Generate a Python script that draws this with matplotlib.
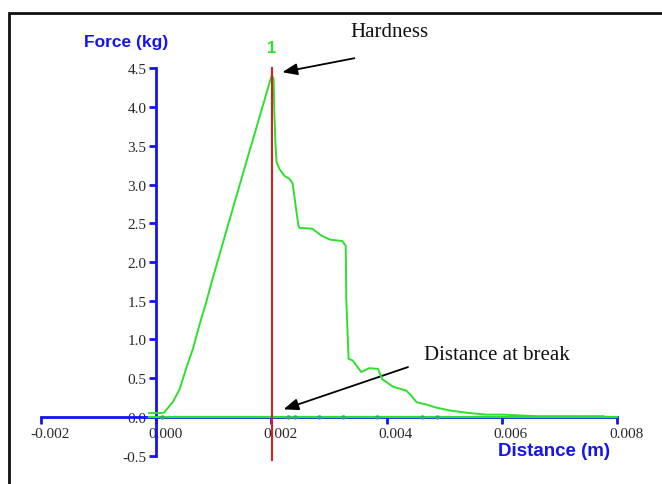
import matplotlib
matplotlib.use('Agg')
import matplotlib.pyplot as plt
import matplotlib.transforms as mtransforms
from matplotlib.patches import Rectangle

# force / distance trace of the texture test
distance = [-0.00012, 0.00006, 0.00014, 0.00017, 0.00029, 0.00041, 0.00052, 0.00064,
            0.00075, 0.00087, 0.00098, 0.00125, 0.00155, 0.00185,
            0.00201, 0.00204, 0.00205, 0.00207, 0.00209, 0.00214, 0.00223, 0.00232,
            0.00237, 0.00243, 0.00247, 0.00249, 0.00271, 0.00287, 0.00301, 0.00323,
            0.00329, 0.00330, 0.00334, 0.00341, 0.00356, 0.0037, 0.00385, 0.00392,
            0.00411, 0.00434, 0.00442, 0.00452, 0.00469, 0.00486, 0.00509, 0.00538,
            0.00573, 0.00602, 0.0066, 0.00718, 0.00776]
force = [0.05, 0.05, 0.055, 0.085, 0.19, 0.36, 0.62, 0.88,
         1.18, 1.48, 1.78, 2.48, 3.25, 4.01,
         4.42, 4.36, 3.97, 3.55, 3.29, 3.2, 3.11, 3.07,
         3.01, 2.68, 2.47, 2.44, 2.43, 2.34, 2.29, 2.27,
         2.21, 1.52, 0.75, 0.73, 0.58, 0.63, 0.62, 0.49,
         0.39, 0.34, 0.28, 0.19, 0.16, 0.12, 0.085, 0.055,
         0.03, 0.03, 0.01, 0.01, 0.01]

# baseline channel and its markers
baseline_x = [-0.00012, 0.0080]
baseline_y = [0.0, 0.0]
marker_x = [0.0001, 0.00229, 0.00241, 0.00282, 0.00325, 0.00384, 0.00461, 0.00487]
marker_y = [0.0] * len(marker_x)

peak_x = 0.00201
peak_label = '1'
x_ticks = [-0.002, 0.000, 0.002, 0.004, 0.006, 0.008]
y_ticks = [-0.5, 0.0, 0.5, 1.0, 1.5, 2.0, 2.5, 3.0, 3.5, 4.0, 4.5]

blue = '#1414f0'
green = '#2ee02e'
red = '#d82020'
serif = 'Liberation Serif'

fig = plt.figure(figsize=(6.62, 4.85), dpi=100)
ax = fig.add_axes([40.7 / 662, (485 - 456.7) / 485, 576.6 / 662, 387.4 / 485])
ax.set_xlim(-0.002, 0.008)
ax.set_ylim(-0.5, 4.5)
ax.patch.set_alpha(0)

for side in ['top', 'right']:
    ax.spines[side].set_visible(False)
ax.spines['left'].set_position(('data', 0))
ax.spines['bottom'].set_position(('data', 0))
for side in ['left', 'bottom']:
    ax.spines[side].set_color(blue)
    ax.spines[side].set_linewidth(2)

ax.set_xticks(x_ticks)
ax.set_xticklabels(['%.3f' % v for v in x_ticks])
ax.set_yticks(y_ticks)
ax.set_yticklabels(['%.1f' % v for v in y_ticks])
ax.tick_params(axis='both', direction='out', color=blue, width=2, length=5,
               labelcolor='#2a2a2a', labelsize=11, pad=2)
for lab in ax.get_xticklabels() + ax.get_yticklabels():
    lab.set_fontfamily(serif)
shift = mtransforms.ScaledTranslation(9 / 100, 0, fig.dpi_scale_trans)
for lab in ax.get_xticklabels():
    lab.set_transform(lab.get_transform() + shift)

ax.plot(baseline_x, baseline_y, color=green, lw=1.6, zorder=3, clip_on=False)
ax.plot(marker_x, marker_y, 'o', color='#3aa86a', ms=2.2, zorder=3, clip_on=False)
ax.plot(distance, force, color=green, lw=1.4, zorder=4, clip_on=False)
ax.plot([peak_x, peak_x], [-0.56, 4.5], color=red, lw=1.5, zorder=5, clip_on=False)
ax.text(peak_x, 4.77, peak_label, color=green, fontsize=12, fontweight='bold',
        ha='center', va='center', fontfamily='Liberation Sans')

ax.text(-0.00052, 4.84, 'Force (kg)', color=blue, fontsize=12.5, fontweight='bold',
        ha='center', va='center', fontfamily='Liberation Sans')
ax.text(0.00691, -0.43, 'Distance (m)', color=blue, fontsize=13.5, fontweight='bold',
        ha='center', va='center', fontfamily='Liberation Sans')

# annotations
ax.text(0.00405, 4.98, 'Hardness', fontsize=15, ha='center', va='center',
        fontfamily=serif, color='#111111')
ax.annotate('', xy=(0.00219, 4.45), xytext=(0.00344, 4.63),
            arrowprops=dict(arrowstyle='-|>,head_length=0.9,head_width=0.35',
                            color='black', lw=1.3, shrinkA=0, shrinkB=0),
            annotation_clip=False)
ax.text(0.00591, 0.81, 'Distance at break', fontsize=15, ha='center', va='center',
        fontfamily=serif, color='#111111')
ax.annotate('', xy=(0.00221, 0.098), xytext=(0.00437, 0.644),
            arrowprops=dict(arrowstyle='-|>,head_length=0.9,head_width=0.35',
                            color='black', lw=1.3, shrinkA=0, shrinkB=0),
            annotation_clip=False)

# outer frame, open to the right and bottom
fig.patches.append(Rectangle((8.5 / 662, -0.1), 1.2, (485 - 14) / 485 + 0.1,
                             transform=fig.transFigure, fill=False,
                             edgecolor='#111111', lw=2))

fig.savefig('out.png', dpi=100)
